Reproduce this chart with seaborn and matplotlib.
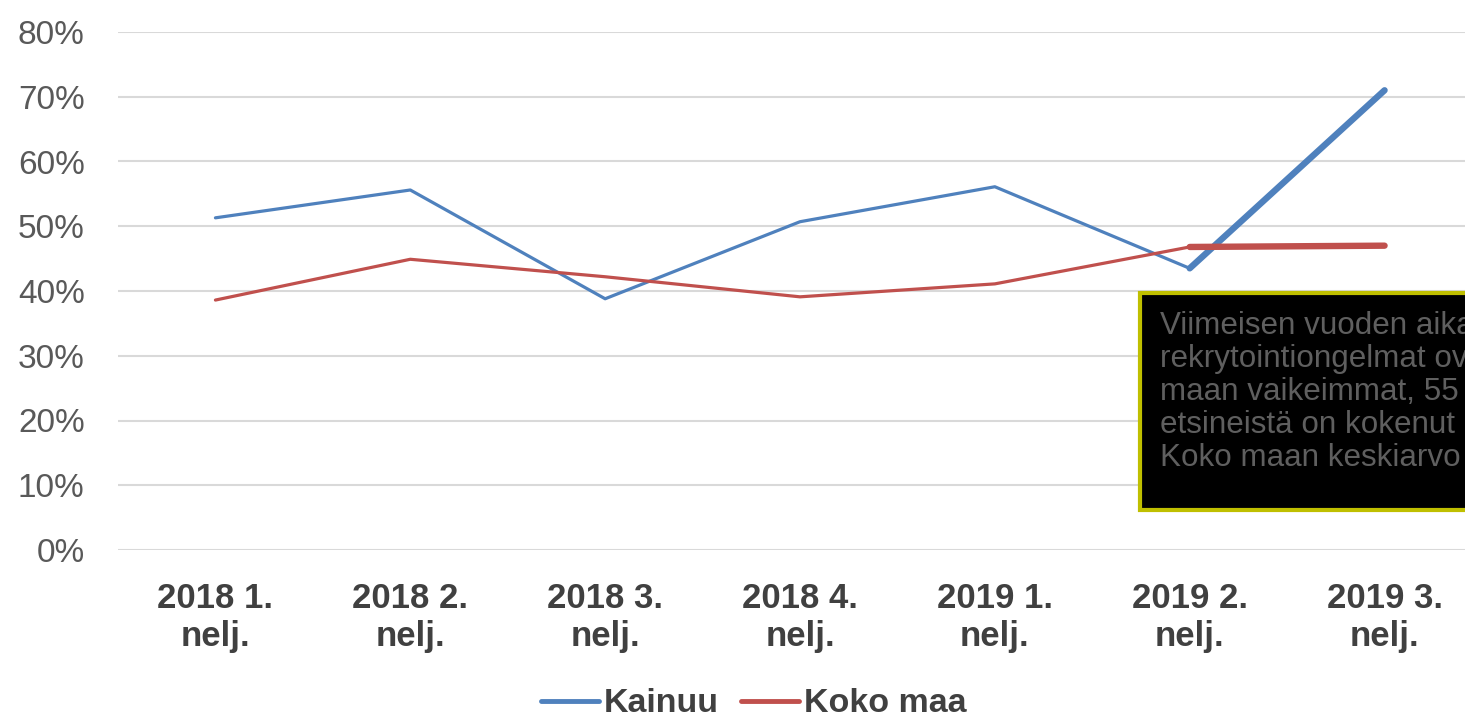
import matplotlib
matplotlib.use("Agg")
import matplotlib.pyplot as plt
import seaborn as sns
import pandas as pd
from matplotlib.patches import Rectangle
from matplotlib.ticker import PercentFormatter

categories = ["2018 1.\nnelj.", "2018 2.\nnelj.", "2018 3.\nnelj.", "2018 4.\nnelj.",
              "2019 1.\nnelj.", "2019 2.\nnelj.", "2019 3.\nnelj."]
kainuu = [51.3, 55.6, 38.8, 50.7, 56.1, 43.5, 71.0]
koko_maa = [38.6, 44.9, 42.2, 39.1, 41.1, 46.8, 47.0]
series_names = ["Kainuu", "Koko maa"]
note_lines = ["Viimeisen vuoden aikana",
              "rekrytointiongelmat ovat",
              "maan vaikeimmat, 55 %",
              "etsineistä on kokenut",
              "Koko maan keskiarvo"]

df = pd.DataFrame({
    "cat": categories * 2,
    "x": list(range(len(categories))) * 2,
    "val": kainuu + koko_maa,
    "sarja": [series_names[0]] * len(categories) + [series_names[1]] * len(categories),
})

sns.set_style("white")
plt.rcParams["font.family"] = ["Liberation Sans", "DejaVu Sans"]

W, H = 1465, 719
fig = plt.figure(figsize=(W / 100, H / 100), dpi=100)
ax = fig.add_axes([118 / W, (H - 550) / H, (1482 - 118) / W, (550 - 32) / H])

palette = {"Kainuu": "#4f81bd", "Koko maa": "#c0504d"}
sns.lineplot(data=df, x="x", y="val", hue="sarja", hue_order=series_names,
             palette=palette, linewidth=2.3, ax=ax, legend=True)

# emphasised last segment
last = df[df["x"] >= len(categories) - 2]
sns.lineplot(data=last, x="x", y="val", hue="sarja", hue_order=series_names,
             palette=palette, linewidth=4.6, ax=ax, legend=False)

ax.set_xlim(-0.5, len(categories) - 0.5)
ax.set_ylim(0, 80)
ax.set_yticks(range(0, 81, 10))
ax.yaxis.set_major_formatter(PercentFormatter(decimals=0))
ax.set_xticks(range(len(categories)))
ax.set_xticklabels(categories, fontweight="bold", color="#404040", fontsize=25,
                   linespacing=1.2)
ax.tick_params(axis="y", labelsize=24, labelcolor="#595959", length=0, pad=24)
ax.tick_params(axis="x", length=0, pad=23)
ax.grid(axis="y", color="#d9d9d9", linewidth=1.5)
ax.set_axisbelow(True)
for s in ax.spines.values():
    s.set_visible(False)
ax.axhline(0, color="#cfcfcf", linewidth=2, zorder=0.5)
ax.set_xlabel("")
ax.set_ylabel("")

handles, labels = ax.get_legend_handles_labels()
ax.get_legend().remove()
leg = fig.legend(handles, labels, loc="center", bbox_to_anchor=(754 / W, (H - 704) / H),
                 ncol=2, frameon=False, handlelength=1.7, handletextpad=0.15,
                 columnspacing=0.65, prop={"weight": "bold", "size": 24.5})
for t in leg.get_texts():
    t.set_color("#404040")
for l in leg.get_lines():
    l.set_linewidth(3.5)

# annotation box
fig.patches.append(Rectangle((1140 / W, (H - 510) / H), 0.3, (510 - 293) / H,
                             transform=fig.transFigure, facecolor="black",
                             edgecolor="#bfbf00", linewidth=3, zorder=5))
fig.text(1160 / W, (H - 311) / H, "\n".join(note_lines), ha="left", va="top",
         color="#5f5f5f", fontsize=22.6, linespacing=1.13, zorder=6)

fig.savefig("out.png", dpi=100)
